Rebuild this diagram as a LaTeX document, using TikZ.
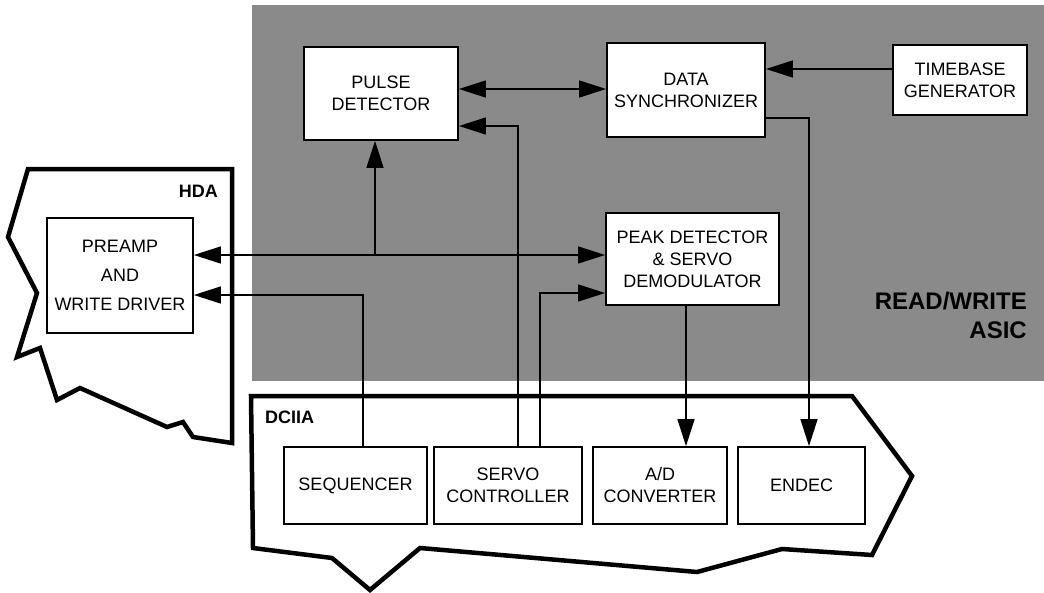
\documentclass[tikz,border=0pt]{standalone}
\usepackage{fontspec}
\setmainfont{Liberation Sans}
\usetikzlibrary{arrows.meta}
\begin{document}
\begin{tikzpicture}[x=1pt,y=-1pt,
  box/.style={draw, line width=1.8pt, fill=white, align=center, inner sep=0pt,
    font=\fontsize{18}{22}\selectfont},
  outline/.style={draw, line width=4.5pt, fill=white, line join=miter},
  conn/.style={line width=1.4pt, -{Triangle[length=27pt,width=17pt]}},
  biconn/.style={line width=1.4pt, {Triangle[length=27pt,width=17pt]}-{Triangle[length=27pt,width=17pt]}},
  lbl/.style={font=\bfseries\fontsize{18}{22}\selectfont, inner sep=0pt},
]
\useasboundingbox (0,0) rectangle (1044,592);
% shaded ASIC area
\fill[black!46] (252,5) rectangle (1044,381);
% HDA outline
\draw[outline] (28,169) -- (232,169) -- (232,443) -- (193,437) -- (183,422) -- (167,427)
  -- (80,388) -- (57,400) -- (40,348) -- (17,357) -- (37,293) -- (8,237) -- cycle;
% DCIIA outline
\draw[outline] (251,396) -- (852,396) -- (912,476) -- (872,555) -- (782,549) -- (697,572)
  -- (420,548) -- (370,590) -- (332,558) -- (253,548) -- cycle;
% labels
\node[lbl, anchor=east] (hda) at (218,191) {HDA};
\node[lbl, anchor=west] (dciia) at (265,417) {DCIIA};
\node[font=\bfseries\fontsize{24}{29}\selectfont, align=right, anchor=east, inner sep=0pt]
  (rw) at (1027,315) {READ/WRITE\\ASIC};
% boxes
\node[box, minimum width=154pt, minimum height=93pt] (pulse) at (381,93.5) {PULSE\\DETECTOR};
\node[box, minimum width=158pt, minimum height=94pt] (sync) at (686,90) {DATA\\SYNCHRONIZER};
\node[box, minimum width=134pt, minimum height=70pt] (timebase) at (960,80) {TIMEBASE\\GENERATOR};
\node[box, minimum width=173pt, minimum height=92pt] (peak) at (692.5,259) {PEAK DETECTOR\\\& SERVO\\DEMODULATOR};
\node[box, minimum width=146pt, minimum height=115pt, font=\fontsize{18}{29}\selectfont] (preamp) at (120,275.5) {PREAMP\\AND\\WRITE DRIVER};
\node[box, minimum width=143pt, minimum height=77pt] (seq) at (355.5,485.5) {SEQUENCER};
\node[box, minimum width=148pt, minimum height=77pt] (servo) at (508,485.5) {SERVO\\CONTROLLER};
\node[box, minimum width=134pt, minimum height=77pt] (ad) at (660,485.5) {A/D\\CONVERTER};
\node[box, minimum width=127pt, minimum height=77pt] (endec) at (801.5,485.5) {ENDEC};
% routing points
\coordinate (c1) at (0,89);
\coordinate (c2) at (0,69);
\coordinate (c3) at (809,118);
\coordinate (c4) at (686,0);
\coordinate (c5) at (375,255);
\coordinate (c6) at (363,295);
\coordinate (c7) at (518,126);
\coordinate (c8) at (540,293);
% connectors
\draw[biconn] (pulse.east |- c1) -- (sync.west |- c1);
\draw[conn] (timebase.west |- c2) -- (sync.east |- c2);
\draw[conn] (sync.east |- c3) -| (c3 |- endec.north);
\draw[conn] (peak.south -| c4) -- (ad.north -| c4);
\draw[biconn] (preamp.east |- c5) -- (peak.west |- c5);
\draw[conn] (c5) -- (c5 |- pulse.south);
\draw[conn] (c6 |- seq.north) |- (preamp.east |- c6);
\draw[conn] (c7 |- servo.north) |- (pulse.east |- c7);
\draw[conn] (c8 |- servo.north) |- (peak.west |- c8);
\end{tikzpicture}
\end{document}
